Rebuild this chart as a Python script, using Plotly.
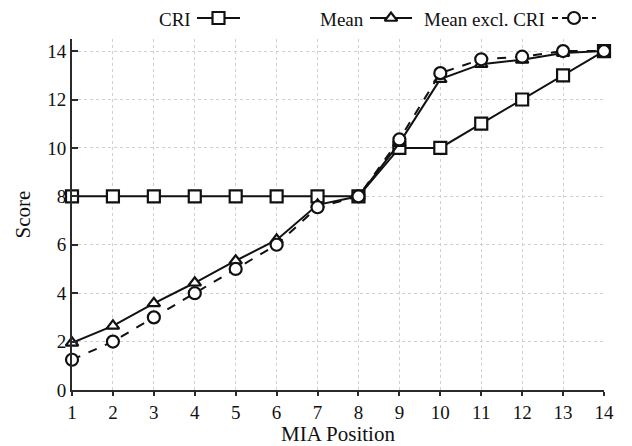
import plotly.graph_objects as go

# MIA position on the x axis
positions = list(range(1, 15))

# Scores per position
cri = [8, 8, 8, 8, 8, 8, 8, 8, 10, 10, 11, 12, 13, 14]
mean_all = [1.95, 2.65, 3.58, 4.43, 5.34, 6.2, 7.65, 8.0, 10.2, 12.84, 13.46, 13.64, 13.92, 14.0]
mean_excl = [1.25, 2.0, 3.0, 4.0, 5.0, 6.0, 7.55, 8.0, 10.35, 13.09, 13.66, 13.77, 14.0, 14.0]

y_ticks = [0, 2, 4, 6, 8, 10, 12, 14]

W, H = 632, 446
L, R, B = 72, 28, 56          # page margins (top margin holds the legend row)
PLOT_TOP = 39                 # pixel row where the data area starts
AREA_H = H - B                # height of the plotting region incl. legend row

FONT = "Liberation Serif"
INK = "#111111"
AXIS = "#2a2a2a"


def marker_style(sym):
    return dict(symbol=sym, size=12 if sym != "triangle-up" else 11,
                color="white", line=dict(color=INK, width=2.2))


series = [
    ("CRI", cri, "square", "solid"),
    ("Mean", mean_all, "triangle-up", "solid"),
    ("Mean excl. CRI", mean_excl, "circle", "dash"),
]

fig = go.Figure()
for name, vals, sym, dash in series:
    fig.add_trace(go.Scatter(
        x=positions, y=vals, name=name, mode="lines+markers",
        line=dict(color=INK, width=2, dash=dash),
        marker=marker_style(sym),
        cliponaxis=False, showlegend=False,
    ))

# Legend row across the top: label, then a short line with the series marker.
# Drawn on a hidden pixel-space axis pair spanning the whole plotting region.
legend_items = [
    ("CRI", "square", "solid", 193, 197, 240),
    ("Mean", "triangle-up", "solid", 366, 370, 412),
    ("Mean excl. CRI", "circle", "dash", 547, 552, 596),
]
key_y = 18
for label, sym, dash, text_right, x0, x1 in legend_items:
    fig.add_trace(go.Scatter(
        x=[x0, x1], y=[key_y, key_y], xaxis="x2", yaxis="y2", mode="lines",
        line=dict(color=INK, width=2, dash="6px,4px" if dash == "dash" else "solid"),
        showlegend=False, hoverinfo="skip", cliponaxis=False,
    ))
    fig.add_trace(go.Scatter(
        x=[(x0 + x1) / 2], y=[key_y], xaxis="x2", yaxis="y2", mode="markers",
        marker=marker_style(sym),
        showlegend=False, hoverinfo="skip", cliponaxis=False,
    ))
    fig.add_annotation(text=label, x=text_right, y=key_y + 1, xref="x2", yref="y2",
                       xanchor="right", yanchor="middle", showarrow=False,
                       font=dict(family=FONT, size=19, color=INK))

fig.update_layout(
    width=W, height=H,
    margin=dict(l=L, r=R, t=0, b=B, autoexpand=False),
    paper_bgcolor="white", plot_bgcolor="rgba(0,0,0,0)",
    font=dict(family=FONT, size=20, color=INK),
    xaxis=dict(
        range=[1, 14], tickmode="array", tickvals=positions,
        ticks="outside", ticklen=4, tickwidth=1.5, tickcolor=AXIS,
        showline=True, linecolor=AXIS, linewidth=2,
        showgrid=True, gridcolor="#d0d0d0", griddash="dot", gridwidth=1,
        zeroline=False, anchor="y",
        title=dict(text="MIA Position", font=dict(family=FONT, size=21), standoff=0),
        tickfont=dict(family=FONT, size=19, color=INK),
    ),
    yaxis=dict(
        domain=[0, (AREA_H - PLOT_TOP) / AREA_H],
        range=[0, 14.5], tickmode="array", tickvals=y_ticks,
        ticks="inside", ticklen=6, tickwidth=1.5, tickcolor=AXIS,
        showline=True, linecolor=AXIS, linewidth=2,
        showgrid=True, gridcolor="#d0d0d0", griddash="dot", gridwidth=1,
        zeroline=False, anchor="x",
        title=dict(text="Score", font=dict(family=FONT, size=21), standoff=11),
        tickfont=dict(family=FONT, size=19, color=INK),
    ),
    xaxis2=dict(range=[L, W - R], domain=[0, 1], anchor="y2", visible=False),
    yaxis2=dict(range=[AREA_H, 0], domain=[0, 1], anchor="x2", visible=False),
)

fig.write_html("out.html")
